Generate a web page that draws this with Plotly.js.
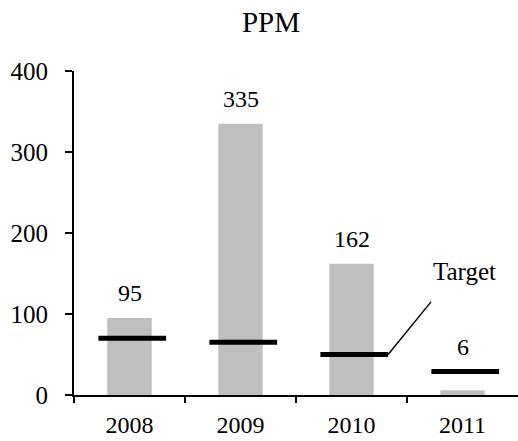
<!DOCTYPE html>
<html>
<head>
<meta charset="utf-8">
<script src="https://cdn.plot.ly/plotly-3.0.1.min.js"></script>
<style>html,body{margin:0;padding:0;background:#fff;}#chart{width:518px;height:441px;}</style>
</head>
<body>
<div id="chart"></div>
<script>
var years = ['2008', '2009', '2010', '2011'];
var ppm = [95, 335, 162, 6];
var targets = [70, 65, 50, 29];
var yTicks = [0, 100, 200, 300, 400];

var FONT = '"Liberation Serif", "Times New Roman", serif';

var idx = years.map(function (_, i) { return i; });
var boundaries = years.map(function (_, i) { return i - 0.5; });

var tx = [], ty = [];
targets.forEach(function (t, i) {
  tx.push(i - 0.28, i + 0.33, null);
  ty.push(t, t, null);
});

var bars = {
  type: 'bar', x: idx, y: ppm, width: 0.4,
  marker: {color: '#BFBFBF'}, hoverinfo: 'skip', showlegend: false
};
var targetTrace = {
  type: 'scatter', mode: 'lines', x: tx, y: ty,
  line: {color: '#000', width: 5}, hoverinfo: 'skip', showlegend: false,
  connectgaps: false
};

var annotations = ppm.map(function (v, i) {
  return {
    x: i, y: Math.max(v, targets[i]), xref: 'x', yref: 'y',
    text: String(v), showarrow: false, yanchor: 'bottom', yshift: 10,
    font: {family: FONT, size: 24, color: '#000'}
  };
});
annotations.push({
  x: 3.02, y: 152, xref: 'x', yref: 'y', text: 'Target', showarrow: false,
  font: {family: FONT, size: 25, color: '#000'}
});

var layout = {
  width: 518, height: 441,
  margin: {l: 74, r: 0, t: 71, b: 46},
  paper_bgcolor: '#fff', plot_bgcolor: '#fff',
  font: {family: FONT, size: 24, color: '#000'},
  title: {text: 'PPM', font: {family: FONT, size: 29, color: '#000'},
          x: 0.523, xref: 'container', xanchor: 'center',
          y: 0.95, yref: 'container', yanchor: 'middle'},
  xaxis: {
    range: [-0.5, 3.5], tickvals: idx, ticktext: years, ticks: '',
    showline: true, linecolor: '#000', linewidth: 2, ticklabelstandoff: 7,
    showgrid: false, zeroline: false, fixedrange: true,
    tickfont: {family: FONT, size: 24, color: '#000'}
  },
  xaxis2: {
    overlaying: 'x', anchor: 'y', side: 'bottom', range: [-0.5, 3.5],
    tickvals: boundaries, ticktext: boundaries.map(function () { return ''; }),
    ticks: 'outside', ticklen: 7, tickwidth: 2, tickcolor: '#000',
    showline: false, showgrid: false, zeroline: false, fixedrange: true
  },
  yaxis: {
    range: [0, 400], tickvals: yTicks, ticks: 'outside', ticklen: 7, tickwidth: 2,
    tickcolor: '#000', showline: true, linecolor: '#000', linewidth: 2,
    showgrid: false, zeroline: false, fixedrange: true, ticklabelstandoff: 12,
    tickfont: {family: FONT, size: 25, color: '#000'}
  },
  shapes: [{
    type: 'line', xref: 'x', yref: 'y', x0: 2.33, y0: 50, x1: 2.716, y1: 115,
    line: {color: '#000', width: 1.5}
  }],
  annotations: annotations
};

var ghost = {type: 'scatter', x: [], y: [], xaxis: 'x2', hoverinfo: 'skip', showlegend: false};

Plotly.newPlot('chart', [bars, targetTrace, ghost], layout, {displayModeBar: false, staticPlot: true});
</script>
</body>
</html>
